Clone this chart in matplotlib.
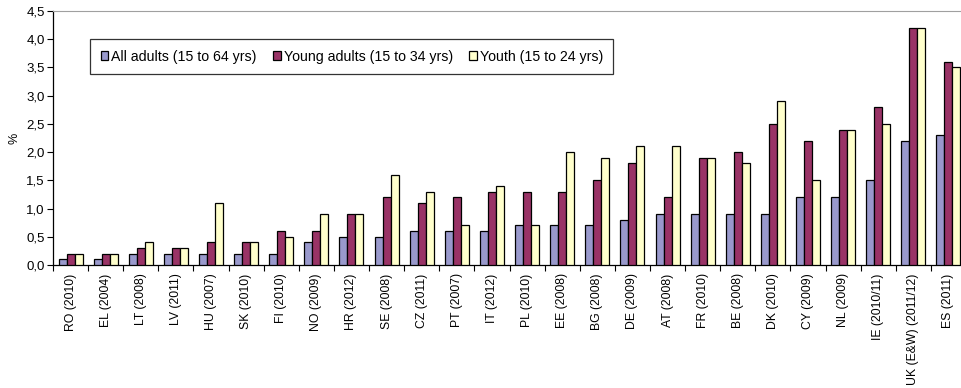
import numpy as np
import matplotlib
matplotlib.use("Agg")
import matplotlib.pyplot as plt
from matplotlib.ticker import FixedLocator, NullFormatter

plt.rcParams['font.family'] = ['Liberation Sans', 'DejaVu Sans']

categories = ["RO (2010)", "EL (2004)", "LT (2008)", "LV (2011)", "HU (2007)",
              "SK (2010)", "FI (2010)", "NO (2009)", "HR (2012)", "SE (2008)",
              "CZ (2011)", "PT (2007)", "IT (2012)", "PL (2010)", "EE (2008)",
              "BG (2008)", "DE (2009)", "AT (2008)", "FR (2010)", "BE (2008)",
              "DK (2010)", "CY (2009)", "NL (2009)", "IE (2010/11)",
              "UK (E&W) (2011/12)", "ES (2011)"]

all_adults = [0.1, 0.1, 0.2, 0.2, 0.2, 0.2, 0.2, 0.4, 0.5, 0.5, 0.6, 0.6, 0.6,
              0.7, 0.7, 0.7, 0.8, 0.9, 0.9, 0.9, 0.9, 1.2, 1.2, 1.5, 2.2, 2.3]
young_adults = [0.2, 0.2, 0.3, 0.3, 0.4, 0.4, 0.6, 0.6, 0.9, 1.2, 1.1, 1.2, 1.3,
                1.3, 1.3, 1.5, 1.8, 1.2, 1.9, 2.0, 2.5, 2.2, 2.4, 2.8, 4.2, 3.6]
youth = [0.2, 0.2, 0.4, 0.3, 1.1, 0.4, 0.5, 0.9, 0.9, 1.6, 1.3, 0.7, 1.4,
         0.7, 2.0, 1.9, 2.1, 2.1, 1.9, 1.8, 2.9, 1.5, 2.4, 2.5, 4.2, 3.5]

series_labels = ["All adults (15 to 64 yrs)", "Young adults (15 to 34 yrs)",
                 "Youth (15 to 24 yrs)"]
colors = ["#9999CC", "#993366", "#FFFFCC"]

fig = plt.figure(figsize=(9.62, 3.88), dpi=100)
ax = fig.add_axes([53 / 962, 123 / 388, 913 / 962, 254 / 388])

x = np.arange(len(categories))
w = 0.228
for i, (vals, lab, col) in enumerate(zip([all_adults, young_adults, youth],
                                         series_labels, colors)):
    ax.bar(x + (i - 1) * w, vals, width=w, color=col, edgecolor="black",
           linewidth=0.9, label=lab, zorder=3)

ax.set_xlim(-0.5, len(categories) - 0.5)
ax.set_ylim(0, 4.5)
yt = np.arange(0, 4.51, 0.5)
ax.set_yticks(yt)
ax.set_yticklabels([f"{v:.1f}".replace(".", ",") for v in yt], fontsize=9.5)

ax.xaxis.set_major_locator(FixedLocator(np.arange(-0.5, len(categories), 1.0)))
ax.xaxis.set_major_formatter(NullFormatter())
ax.xaxis.set_minor_locator(FixedLocator(x))
ax.set_xticklabels(categories, minor=True, rotation=90, fontsize=8.8)
ax.tick_params(axis="x", which="minor", length=0, pad=6)
ax.tick_params(axis="x", which="major", length=4, direction="out", width=0.8)
ax.tick_params(axis="y", length=4, direction="out", width=0.8, pad=2)

ax.spines["right"].set_visible(False)
ax.spines["top"].set_color("#A0A0A0")
ax.spines["left"].set_linewidth(0.9)
ax.spines["bottom"].set_linewidth(0.9)

ax.set_ylabel("%", fontsize=9, labelpad=4)

leg = ax.legend(loc="upper left", bbox_to_anchor=(37 / 913, 226 / 254),
                ncol=3, fontsize=10.2, frameon=True, fancybox=False,
                handlelength=0.55, handleheight=0.55, handletextpad=0.2,
                columnspacing=1.15, borderpad=0.75, borderaxespad=0)
leg.get_frame().set_edgecolor("black")
leg.get_frame().set_linewidth(0.9)

fig.savefig("out.png", dpi=100)
